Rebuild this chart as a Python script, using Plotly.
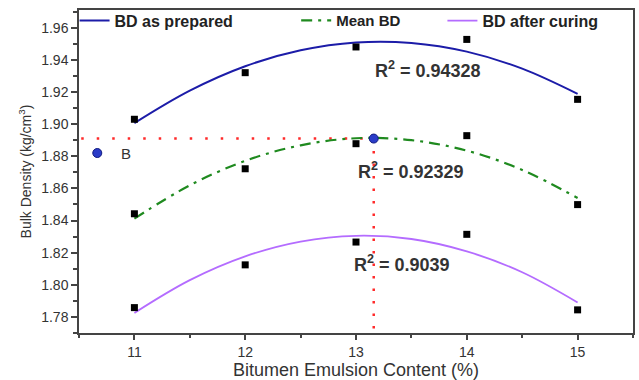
import plotly.graph_objects as go

# ---- data ----
content = [11, 12, 13, 14, 15]
bd_prepared = [1.903, 1.932, 1.948, 1.9527, 1.9154]
bd_mean = [1.8442, 1.8722, 1.8878, 1.8928, 1.8499]
bd_cured = [1.7858, 1.8124, 1.8266, 1.8314, 1.7844]

fit_x = [11, 11.5, 12, 12.5, 13, 13.5, 14, 14.5, 15]
fit_prepared = [1.9006, 1.9208, 1.9360, 1.9459, 1.9508, 1.9505, 1.9451, 1.9345, 1.9188]
fit_mean = [1.8412, 1.8619, 1.8771, 1.8868, 1.8912, 1.8900, 1.8835, 1.8715, 1.8540]
fit_cured = [1.7825, 1.8029, 1.8177, 1.8269, 1.8305, 1.8285, 1.8208, 1.8078, 1.7890]

r2_labels = ["R<sup>2</sup> = 0.94328", "R<sup>2</sup> = 0.92329", "R<sup>2</sup> = 0.9039"]
r2_x = [13.652, 13.495, 13.419]
r2_y = [1.934, 1.8714, 1.813]

opt_h_x = [10.52, 13.16]
opt_h_y = [1.891, 1.891]
opt_v_x = [13.16, 13.16]
opt_v_y = [1.891, 1.7705]
opt_point_x = [13.16]
opt_point_y = [1.891]
b_point_x = [10.665]
b_point_y = [1.882]

x_ticks = [11, 12, 13, 14, 15]
y_ticks = [1.78, 1.80, 1.82, 1.84, 1.86, 1.88, 1.90, 1.92, 1.94, 1.96]

BLUE = "#1c1ca8"
GREEN = "#1f8a1f"
PURPLE = "#b46cff"
RED = "#ff2a2a"
TXT = "#333333"

fig = go.Figure()

# red dotted guides
fig.add_trace(go.Scatter(x=opt_h_x, y=opt_h_y, mode="lines",
                         line=dict(color=RED, width=2.5, dash="2.5px,13px"),
                         showlegend=False, hoverinfo="skip"))
fig.add_trace(go.Scatter(x=opt_v_x, y=opt_v_y, mode="lines",
                         line=dict(color=RED, width=2.5, dash="2.5px,10px"),
                         showlegend=False, hoverinfo="skip"))

# fitted curves
fig.add_trace(go.Scatter(x=fit_x, y=fit_prepared, mode="lines", name="BD as prepared",
                         line=dict(color=BLUE, width=2, shape="spline"), legend="legend"))
fig.add_trace(go.Scatter(x=fit_x, y=fit_mean, mode="lines", name="Mean BD",
                         line=dict(color=GREEN, width=2.2, shape="spline", dash="11px,6px,3px,6px"),
                         legend="legend2"))
fig.add_trace(go.Scatter(x=fit_x, y=fit_cured, mode="lines", name="BD after curing",
                         line=dict(color=PURPLE, width=1.8, shape="spline"), legend="legend3"))

# data squares
for ys in (bd_prepared, bd_mean, bd_cured):
    fig.add_trace(go.Scatter(x=content, y=ys, mode="markers",
                             marker=dict(symbol="square", size=7, color="black"),
                             showlegend=False))

# blue points
fig.add_trace(go.Scatter(x=opt_point_x + b_point_x, y=opt_point_y + b_point_y, mode="markers",
                         marker=dict(symbol="circle", size=9, color="#2a3cc8",
                                     line=dict(color="#101a80", width=1)),
                         showlegend=False))
fig.add_annotation(x=10.92, y=1.882, xref="x", yref="y", text="B", showarrow=False,
                   font=dict(family="Arial", size=15, color=TXT))

for t, xx, yy in zip(r2_labels, r2_x, r2_y):
    fig.add_annotation(x=xx, y=yy, xref="x", yref="y", text=t, showarrow=False,
                       font=dict(family="Arial", size=18, color=TXT, weight="bold"))

legend_common = dict(orientation="h", yanchor="middle", y=0.967, xanchor="left",
                     bgcolor="rgba(0,0,0,0)", borderwidth=0,
                     font=dict(family="Arial", size=15, color="#222222", weight="bold"))

fig.update_layout(
    width=639, height=380,
    margin=dict(l=79, r=4, t=9, b=40),
    paper_bgcolor="white", plot_bgcolor="white",
    legend=dict(x=-0.008, font=dict(family="Arial", size=16, color="#222222", weight="bold"),
                **{k: v for k, v in legend_common.items() if k != "font"}),
    legend2=dict(x=0.392, **legend_common),
    legend3=dict(x=0.656, font=dict(family="Arial", size=16, color="#222222", weight="bold"),
                 **{k: v for k, v in legend_common.items() if k != "font"}),
    xaxis=dict(range=[10.5, 15.5], tickvals=x_ticks, ticks="outside", ticklen=5, tickwidth=1.5,
               tickcolor="#444", showline=True, linecolor="#444", linewidth=1.5, mirror=True,
               showgrid=False, zeroline=False,
               minor=dict(dtick=0.5, tick0=10.5, ticks="outside", ticklen=3, tickcolor="#444"),
               tickfont=dict(family="Arial", size=14, color=TXT),
               title=dict(text="Bitumen Emulsion Content (%)", standoff=4,
                          font=dict(family="Arial", size=18, color=TXT))),
    yaxis=dict(range=[1.77, 1.971], tickvals=y_ticks, ticktext=[f"{v:.2f}" for v in y_ticks],
               ticks="outside", ticklen=6, tickwidth=1.5, tickcolor="#444",
               showline=True, linecolor="#444", linewidth=1.5, mirror=True,
               showgrid=False, zeroline=False,
               minor=dict(dtick=0.01, tick0=1.77, ticks="outside", ticklen=4, tickcolor="#444"),
               tickfont=dict(family="Arial", size=14, color=TXT),
               title=dict(text="Bulk Density (kg/cm<sup>3</sup>)", standoff=6,
                          font=dict(family="Arial", size=14, color=TXT))),
)

fig.write_html("out.html")
